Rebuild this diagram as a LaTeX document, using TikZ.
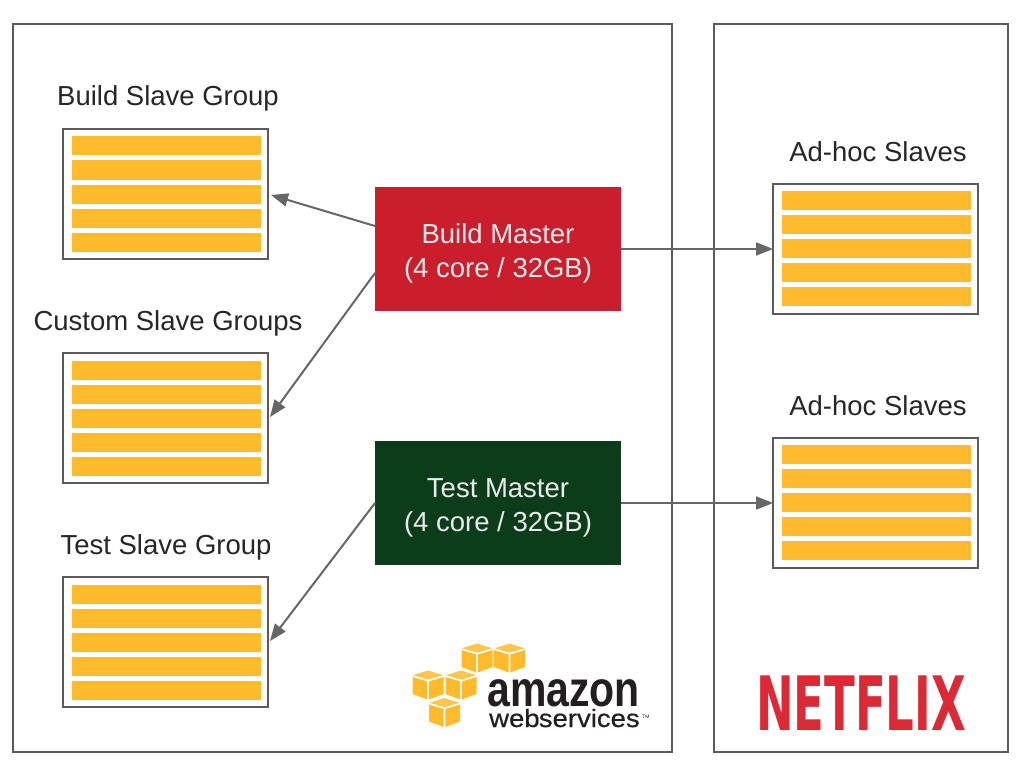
\documentclass[tikz,border=0pt]{standalone}
\usepackage{fontspec}
\setmainfont{Liberation Sans}
\newfontfamily\nffont{DejaVu Sans}
\newfontfamily\awsfont[FakeBold=0.5]{Liberation Sans}
\usetikzlibrary{calc,arrows.meta}
\definecolor{barc}{HTML}{FFBB2C}
\definecolor{linec}{HTML}{666666}
\definecolor{framec}{HTML}{5A5A5A}
\definecolor{bmred}{HTML}{CB1E2C}
\definecolor{tmgreen}{HTML}{0B3D1B}
\definecolor{nfred}{HTML}{DB2A36}
\definecolor{txtc}{HTML}{262626}
\definecolor{awsc}{HTML}{231F20}
\newcommand{\slavegroup}[3]{%
  \node[groupbox] (#1) at (#2,#3) {};
  \foreach \yy in {-48,-24,0,24,48}{
    \fill[barc] ($(#1.center)+(-93.5,\yy-9.5)$) rectangle ($(#1.center)+(95.5,\yy+9.5)$);
  }%
}
\newcommand{\awscube}[2]{%
  \begin{scope}[shift={(#1,#2)}]
    \fill[barc!85!white] (0,-14.5) -- (15,-9.8) -- (0,-5.3) -- (-15,-9.8) -- cycle;
    \fill[barc] (-15.5,-8) -- (-0.8,-3.5) -- (-0.8,14.5) -- (-15.5,9) -- cycle;
    \fill[barc] (15.5,-8) -- (0.8,-3.5) -- (0.8,14.5) -- (15.5,9) -- cycle;
  \end{scope}%
}
\begin{document}
\begin{tikzpicture}[x=1pt,y=-1pt,
  groupbox/.style={draw=framec,line width=2pt,fill=white,minimum width=205pt,minimum height=130pt,inner sep=0pt,outer sep=0pt},
  frame/.style={draw=framec,line width=1.4pt,fill=white,inner sep=0pt,outer sep=0pt},
  master/.style={minimum width=246pt,minimum height=124pt,inner sep=0pt,outer sep=0pt,text=white!92!black,align=center,font=\fontsize{27.5}{34}\selectfont},
  lbl/.style={anchor=base,text=txtc,inner sep=0pt,font=\fontsize{27.5}{30}\selectfont},
  conn/.style={draw=linec,line width=2pt,-{Triangle[length=17pt,width=13pt]}}]
\useasboundingbox (0,0) rectangle (1032,778);
\fill[white] (0,0) rectangle (1032,778);
\node[frame,minimum width=659pt,minimum height=728pt] (aws) at (342.5,388) {};
\node[frame,minimum width=294pt,minimum height=728pt] (nf) at (861,388) {};
\slavegroup{bsg}{165.5}{194}
\slavegroup{csg}{165.5}{418}
\slavegroup{tsg}{165.5}{642}
\slavegroup{ah1}{875.5}{248.5}
\slavegroup{ah2}{875.5}{502.5}
\node[lbl] (lb1) at (168,106) {Build Slave Group};
\node[lbl] (lb2) at (168,330) {Custom Slave Groups};
\node[lbl] (lb3) at (166,554) {Test Slave Group};
\node[lbl] (lb4) at (878,161) {Ad-hoc Slaves};
\node[lbl] (lb5) at (878,415) {Ad-hoc Slaves};
\node[master,fill=bmred] (bm) at (498,249) {\rule{0pt}{28pt}Build Master\\(4 core / 32GB)};
\node[master,fill=tmgreen] (tm) at (498,503) {\rule{0pt}{28pt}Test Master\\(4 core / 32GB)};
\draw[conn] ($(bm.west)+(0,-23)$) -- ($(bsg.east)+(3,1)$);
\draw[conn] ($(bm.west)+(0,24)$) -- ($(csg.east)+(2,-1)$);
\draw[conn] (tm.west) -- ($(tsg.east)+(2,-1)$);
\draw[conn] (bm.east) -- (bm.east -| ah1.west);
\draw[conn] (tm.east) -- (tm.east -| ah2.west);
% Amazon Web Services logo
\awscube{477}{658}
\awscube{509.5}{658}
\awscube{428}{685}
\awscube{461}{685}
\awscube{444.5}{712.5}
\node[anchor=base west,inner sep=0pt,text=awsc] (awst1) at (487,706) {\scalebox{0.82}[1]{\fontsize{50}{50}\selectfont\bfseries amazon}};
\node[anchor=base west,inner sep=0pt,text=awsc] (awst2) at (489,727) {\scalebox{1.1}[1]{\fontsize{25}{25}\awsfont web\kern-0.03em services}};
\node[anchor=base west,inner sep=0pt,text=awsc] (awst3) at (642,718) {\fontsize{5}{5}\selectfont TM};
% Netflix logo
\node[anchor=base,inner sep=0pt,text=nfred] (nft) at (861,730) {\scalebox{0.6}[1.0]{\fontsize{75}{75}\nffont\bfseries NETFLIX}};
\end{tikzpicture}
\end{document}
